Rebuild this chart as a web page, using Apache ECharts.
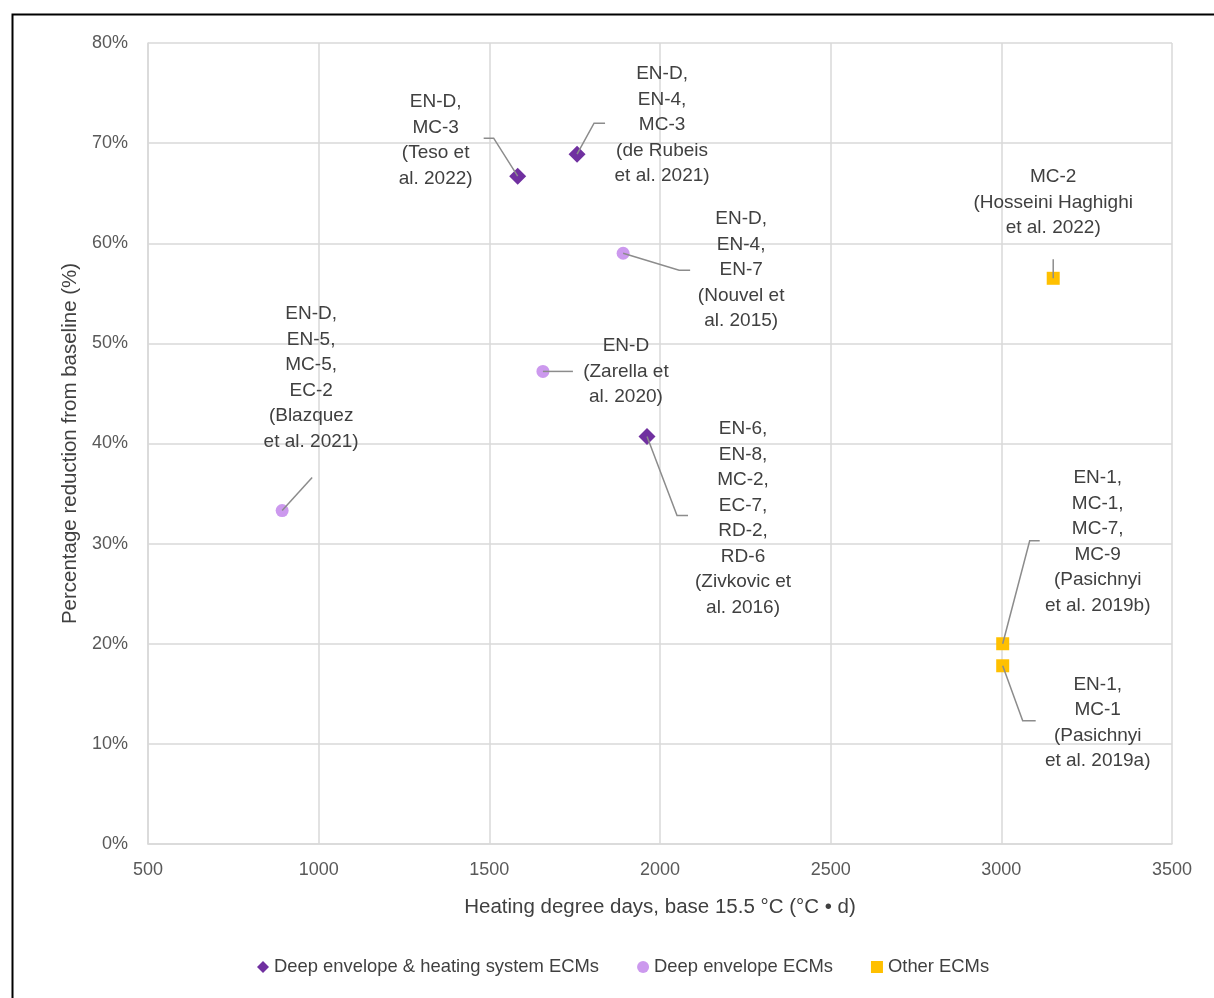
<!DOCTYPE html>
<html>
<head>
<meta charset="utf-8">
<script src="https://cdn.jsdelivr.net/npm/echarts@6/dist/echarts.min.js"></script>
<style>
html,body{margin:0;padding:0;background:#fff;}
#chart{width:1214px;height:998px;}
</style>
</head>
<body>
<div id="chart"></div>
<script>
// ---- data ----
const seriesNames = ["Deep envelope & heating system ECMs", "Deep envelope ECMs", "Other ECMs"];
const xDeepHeat = [1583, 1757, 1962];
const yDeepHeat = [0.667, 0.689, 0.407];
const labelsDeepHeat = [
  "EN-D,\nMC-3\n(Teso et\nal. 2022)",
  "EN-D,\nEN-4,\nMC-3\n(de Rubeis\net al. 2021)",
  "EN-6,\nEN-8,\nMC-2,\nEC-7,\nRD-2,\nRD-6\n(Zivkovic et\nal. 2016)"
];
const xDeep = [893, 1892, 1657];
const yDeep = [0.333, 0.590, 0.472];
const labelsDeep = [
  "EN-D,\nEN-5,\nMC-5,\nEC-2\n(Blazquez\net al. 2021)",
  "EN-D,\nEN-4,\nEN-7\n(Nouvel et\nal. 2015)",
  "EN-D\n(Zarella et\nal. 2020)"
];
const xOther = [3152, 3004, 3004];
const yOther = [0.565, 0.200, 0.178];
const labelsOther = [
  "MC-2\n(Hosseini Haghighi\net al. 2022)",
  "EN-1,\nMC-1,\nMC-7,\nMC-9\n(Pasichnyi\net al. 2019b)",
  "EN-1,\nMC-1\n(Pasichnyi\net al. 2019a)"
];
const xTicks = [500, 1000, 1500, 2000, 2500, 3000, 3500];
const yTicks = [0, 0.1, 0.2, 0.3, 0.4, 0.5, 0.6, 0.7, 0.8];

// ---- layout of annotations (pixel offsets from each marker; style only) ----
const leaderDeepHeat = [
  {line: [[0,0],[-24,-38],[-34,-38]], label: [-82,-36]},
  {line: [[0,0],[17,-31],[28,-31]], label: [85,-29]},
  {line: [[0,0],[30,79],[41,79]], label: [96,82]}
];
const leaderDeep = [
  {line: [[0,0],[30,-33]], label: [29,-133]},
  {line: [[0,0],[56,17],[67,17]], label: [118,17]},
  {line: [[0,0],[30,0]], label: [83,0]}
];
const leaderOther = [
  {line: [[0,0],[0,-19]], label: [0,-76]},
  {line: [[0,0],[27,-103],[37,-103]], label: [95,-102]},
  {line: [[0,0],[20,55],[33,55]], label: [95,57]}
];

const colors = ["#7030A0", "#CC99EE", "#FFC000"];
const FONT = "'Liberation Sans', Arial, sans-serif";
const textColor = "#404040";

function pairs(xs, ys) { return xs.map((x, i) => [x, ys[i]]); }

const annData = [];
const annLayout = [];
const annText = [];
[[xDeepHeat, yDeepHeat, labelsDeepHeat, leaderDeepHeat],
 [xDeep, yDeep, labelsDeep, leaderDeep],
 [xOther, yOther, labelsOther, leaderOther]].forEach(([xs, ys, ls, lay]) => {
  xs.forEach((x, i) => {
    annData.push([x, ys[i], annLayout.length]);
    annLayout.push(lay[i]);
    annText.push(ls[i]);
  });
});

const chart = echarts.init(document.getElementById('chart'), null, {renderer: 'canvas'});
const option = {
  backgroundColor: '#fff',
  animation: false,
  textStyle: {fontFamily: FONT},
  grid: {left: 148, right: 42, top: 43, bottom: 154, containLabel: false},
  xAxis: {
    type: 'value', min: xTicks[0], max: xTicks[xTicks.length - 1], interval: 500,
    name: 'Heating degree days, base 15.5 °C (°C • d)',
    nameLocation: 'middle', nameGap: 53,
    nameTextStyle: {fontSize: 20.5, color: textColor, fontFamily: FONT},
    axisLine: {show: true, lineStyle: {color: '#d9d9d9', width: 1.5}},
    axisTick: {show: false},
    axisLabel: {fontSize: 18, color: '#595959', margin: 17, fontFamily: FONT,
      formatter: v => String(v)},
    splitLine: {show: true, lineStyle: {color: '#d9d9d9', width: 1.5}}
  },
  yAxis: {
    type: 'value', min: yTicks[0], max: yTicks[yTicks.length - 1], interval: 0.1,
    name: 'Percentage reduction from baseline (%)',
    nameLocation: 'middle', nameGap: 64, nameRotate: 90,
    nameTextStyle: {fontSize: 20.5, color: textColor, fontFamily: FONT},
    axisLine: {show: true, lineStyle: {color: '#d9d9d9', width: 1.5}},
    axisTick: {show: false},
    axisLabel: {fontSize: 18, color: '#595959', margin: 20, fontFamily: FONT,
      formatter: v => Math.round(v * 100) + '%'},
    splitLine: {show: true, lineStyle: {color: '#d9d9d9', width: 1.5}}
  },
  legend: {
    top: 958, left: 257, padding: 0,
    itemGap: 38, itemWidth: 12, itemHeight: 12,
    textStyle: {fontSize: 18.4, color: textColor, fontFamily: FONT},
    data: [
      {name: seriesNames[0], icon: 'diamond'},
      {name: seriesNames[1], icon: 'circle'},
      {name: seriesNames[2], icon: 'rect'}
    ]
  },
  graphic: [{
    type: 'rect', left: 10, top: 12, z: 100,
    shape: {x: 0, y: 0, width: 1220, height: 1000},
    style: {fill: 'none', stroke: '#000', lineWidth: 2}
  }],
  series: [
    {name: seriesNames[0], type: 'scatter', symbol: 'diamond', symbolSize: 17,
     itemStyle: {color: colors[0], opacity: 1}, data: pairs(xDeepHeat, yDeepHeat), z: 3},
    {name: seriesNames[1], type: 'scatter', symbol: 'circle', symbolSize: 13,
     itemStyle: {color: colors[1], opacity: 1}, data: pairs(xDeep, yDeep), z: 3},
    {name: seriesNames[2], type: 'scatter', symbol: 'rect', symbolSize: 13,
     itemStyle: {color: colors[2], opacity: 1}, data: pairs(xOther, yOther), z: 3},
    {
      name: 'annotations', type: 'custom', coordinateSystem: 'cartesian2d', z: 4,
      silent: true,
      encode: {x: 0, y: 1},
      data: annData,
      renderItem: function (params, api) {
        const p = api.coord([api.value(0), api.value(1)]);
        const idx = api.value(2);
        const lay = annLayout[idx];
        const pts = lay.line.map(d => [p[0] + d[0], p[1] + d[1]]);
        return {
          type: 'group',
          children: [
            {type: 'polyline', shape: {points: pts},
             style: {stroke: '#8c8c8c', lineWidth: 1.5, fill: null}},
            {type: 'text', x: p[0] + lay.label[0], y: p[1] + lay.label[1],
             style: {text: annText[idx], fill: textColor, fontSize: 19, fontFamily: FONT,
               align: 'center', verticalAlign: 'middle', lineHeight: 25.5}}
          ]
        };
      }
    }
  ]
};
chart.setOption(option);
</script>
</body>
</html>
